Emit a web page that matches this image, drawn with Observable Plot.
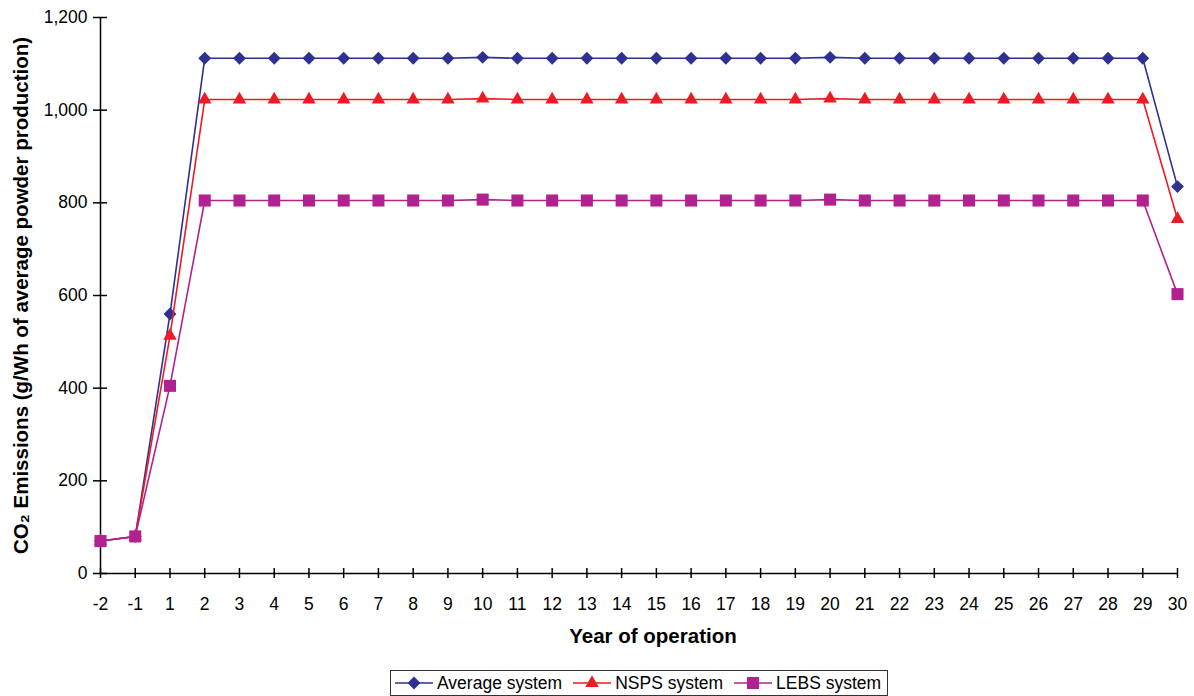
<!DOCTYPE html>
<html>
<head>
<meta charset="utf-8">
<script src="https://cdn.jsdelivr.net/npm/d3@7"></script>
<script src="https://cdn.jsdelivr.net/npm/@observablehq/plot@0.6"></script>
<style>
  body { margin: 0; background: #fff; font-family: "Liberation Sans", Arial, sans-serif; }
  #chart { width: 1194px; }
  .legend { display: flex; justify-content: flex-start; margin-top: 8px; padding-left: 390px; }
  .legend-box { display: inline-flex; align-items: center; border: 1px solid #333; height: 26px; padding: 0 6px 0 4px; gap: 11px; font-size: 17.5px; color: #000; box-sizing: border-box; }
  .legend-item { display: inline-flex; align-items: center; gap: 4px; }
  .legend-item svg { display: block; }
</style>
</head>
<body>
<div id="chart"></div>
<script>
const years = ["-2","-1","1","2","3","4","5","6","7","8","9","10","11","12","13","14","15","16","17","18","19","20","21","22","23","24","25","26","27","28","29","30"];
const averageSystem = [70, 80, 560, 1112, 1112, 1112, 1112, 1112, 1112, 1112, 1112, 1114, 1112, 1112, 1112, 1112, 1112, 1112, 1112, 1112, 1112, 1114, 1112, 1112, 1112, 1112, 1112, 1112, 1112, 1112, 1112, 835];
const nspsSystem    = [70, 80, 513, 1023, 1023, 1023, 1023, 1023, 1023, 1023, 1023, 1025, 1023, 1023, 1023, 1023, 1023, 1023, 1023, 1023, 1023, 1025, 1023, 1023, 1023, 1023, 1023, 1023, 1023, 1023, 1023, 765];
const lebsSystem    = [70, 80, 405, 805, 805, 805, 805, 805, 805, 805, 805, 807, 805, 805, 805, 805, 805, 805, 805, 805, 805, 807, 805, 805, 805, 805, 805, 805, 805, 805, 805, 603];
const seriesNames = ["Average system", "NSPS system", "LEBS system"];
const seriesColors = ["#2E3192", "#ED1C24", "#B1218F"];
const seriesSymbols = ["diamond2", "triangle", "square"];
const seriesR = [5.8, 5.0, 6.8];
const yTicks = [0, 200, 400, 600, 800, 1000, 1200];

const W = 1194, H = 662, ML = 100, MR = 17, MT = 17, MB = 89;
const plotW = W - ML - MR, plotH = H - MT - MB;

const seriesValues = [averageSystem, nspsSystem, lebsSystem];
const data = seriesNames.flatMap((name, s) =>
  years.map((yr, i) => ({series: name, year: yr, value: seriesValues[s][i]})));

const marks = [];
seriesNames.forEach((name, s) => {
  const d = data.filter(r => r.series === name);
  marks.push(Plot.line(d, {x: "year", y: "value", stroke: seriesColors[s], strokeWidth: 1.6}));
  marks.push(Plot.dot(d, {x: "year", y: "value", symbol: () => seriesSymbols[s], fill: seriesColors[s], stroke: "none", r: seriesR[s]}));
});

const svg = Plot.plot({
  width: W,
  height: H,
  marginLeft: ML,
  marginRight: MR,
  marginTop: MT,
  marginBottom: MB,
  style: {fontFamily: "'Liberation Sans', Arial, sans-serif", fontSize: "17.5px", color: "#000", background: "#fff"},
  x: {type: "point", domain: years, padding: 0, round: false},
  y: {domain: [0, 1200]},
  marks: [
    Plot.axisX({tickSize: 0, tickPadding: 24, label: "Year of operation", labelAnchor: "center", labelOffset: 69, labelArrow: "none", fontSize: 17.5}),
    Plot.axisY({ticks: yTicks, tickSize: 0, tickPadding: 13, tickFormat: d3.format(","), label: "CO₂ Emissions (g/Wh of average powder production)", labelAnchor: "center", labelOffset: 87, labelArrow: "none", fontSize: 17.5}),
    // crossing tick marks
    Plot.tickX(years, {x: d => d, stroke: "#000", strokeWidth: 1.5, insetTop: plotH - 10, dy: 5}),
    Plot.tickY(yTicks, {y: d => d, stroke: "#000", strokeWidth: 1.5, insetRight: plotW - 14, dx: -7}),
    // axis lines
    Plot.ruleY([0], {stroke: "#000", strokeWidth: 1.5}),
    Plot.ruleX([years[0]], {stroke: "#000", strokeWidth: 1.5}),
    ...marks
  ]
});

d3.select(svg).selectAll('[aria-label="x-axis label"], [aria-label="y-axis label"]')
  .attr("font-weight", "bold").attr("font-size", "20.5px");
const xl = d3.select(svg).select('[aria-label="x-axis label"]');
xl.attr("transform", "translate(14,0) " + (xl.attr("transform") || ""));

document.getElementById("chart").appendChild(svg);

// legend
const legend = d3.select("#chart").append("div").attr("class", "legend")
  .append("div").attr("class", "legend-box");
const symTypes = [d3.symbolDiamond2, d3.symbolTriangle, d3.symbolSquare];
seriesNames.forEach((name, s) => {
  const item = legend.append("span").attr("class", "legend-item");
  const sv = item.append("svg").attr("width", 38).attr("height", 16);
  sv.append("line").attr("x1", 0).attr("x2", 38).attr("y1", 8).attr("y2", 8)
    .attr("stroke", seriesColors[s]).attr("stroke-width", 1.6);
  const sym = d3.symbol().type(symTypes[s]).size(Math.PI * seriesR[s] * seriesR[s]);
  sv.append("path").attr("d", sym()).attr("transform", "translate(19,8)").attr("fill", seriesColors[s]);
  item.append("span").text(name);
});
</script>
</body>
</html>
